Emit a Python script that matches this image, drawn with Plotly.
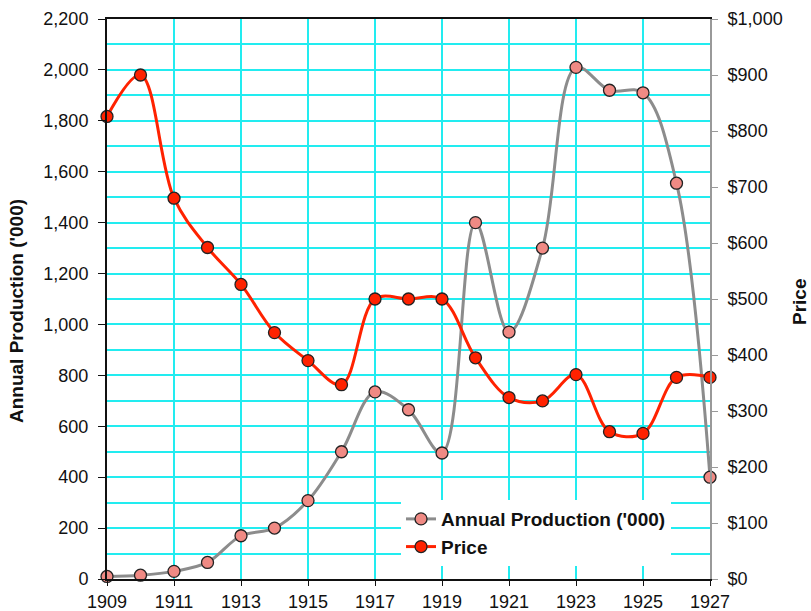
import plotly.graph_objects as go

years = list(range(1909, 1928))
production = [10, 15, 30, 65, 170, 200, 308, 500, 735, 665, 495, 1400, 970, 1300, 2010, 1920, 1910, 1555, 400]
price = [826, 900, 680, 592, 526, 440, 390, 347, 500, 500, 500, 395, 324, 318, 365, 263, 260, 360, 360]
x_ticks = list(range(1909, 1928, 2))
left_ticks = list(range(0, 2201, 200))
right_ticks = list(range(0, 1001, 100))

FONT = "Liberation Sans, Arial, Helvetica, sans-serif"
# plot area target: x 107..710, y 19..579 (page px)
fig = go.Figure()
fig.add_trace(go.Scatter(
    x=years, y=production, name="Annual Production ('000)", mode="lines+markers",
    line=dict(color="#8c8c8c", width=3, shape="spline", smoothing=1.0),
    marker=dict(size=12, color="#f08a84", line=dict(color="#222222", width=1.3)),
    cliponaxis=False, yaxis="y"))
fig.add_trace(go.Scatter(
    x=years, y=price, name="Price", mode="lines+markers",
    line=dict(color="#ff2200", width=3, shape="spline", smoothing=1.0),
    marker=dict(size=12, color="#ff2200", line=dict(color="#222222", width=1.3)),
    cliponaxis=False, yaxis="y2"))

fig.update_layout(
    width=811, height=611,
    margin=dict(l=107, r=101, t=19, b=32, autoexpand=False),
    paper_bgcolor="white", plot_bgcolor="white",
    font=dict(family=FONT, size=18, color="#111111"),
    showlegend=True,
    legend=dict(x=0.4876, y=0.141, xanchor="left", yanchor="top", bgcolor="white",
                font=dict(family=FONT, size=19, weight="bold", color="#111111"),
                tracegroupgap=0, itemwidth=30),
    xaxis=dict(range=[1909, 1927], tickvals=x_ticks, ticktext=[str(v) for v in x_ticks],
               showgrid=True, gridcolor="#22ecf0", gridwidth=2,
               showline=True, linecolor="#111111", linewidth=2, mirror=True,
               ticks="outside", ticklen=5, tickcolor="#111111", zeroline=False,
               automargin=False),
    yaxis=dict(range=[0, 2200], tickvals=left_ticks, ticktext=[f"{v:,}" for v in left_ticks],
               showgrid=True, gridcolor="#22ecf0", gridwidth=2,
               minor=dict(dtick=100, tick0=0, showgrid=True, gridcolor="#22ecf0", gridwidth=2),
               showline=True, linecolor="#111111", linewidth=2,
               ticks="outside", ticklen=7, tickcolor="#111111", zeroline=False,
               ticklabelstandoff=6, automargin=False),
    yaxis2=dict(range=[0, 1000], tickvals=right_ticks, ticktext=[f"${v:,}" for v in right_ticks],
                overlaying="y", side="right", showgrid=False,
                showline=True, linecolor="#999999", linewidth=2,
                ticks="outside", ticklen=6, tickcolor="#999999", zeroline=False,
                ticklabelstandoff=6, automargin=False),
    annotations=[
        dict(text="Annual Production ('000)", xref="paper", yref="paper",
             x=(17 - 107) / 603, y=(579 - 311) / 560, textangle=-90, showarrow=False,
             xanchor="center", yanchor="middle",
             font=dict(family=FONT, size=19, weight="bold", color="#111111")),
        dict(text="Price", xref="paper", yref="paper",
             x=(799 - 107) / 603, y=(579 - 302) / 560, textangle=-90, showarrow=False,
             xanchor="center", yanchor="middle",
             font=dict(family=FONT, size=19, weight="bold", color="#111111")),
    ],
)
fig.write_html("out.html", config={"displayModeBar": False},
               post_script="document.body.style.margin='0';document.body.style.overflow='hidden';")
